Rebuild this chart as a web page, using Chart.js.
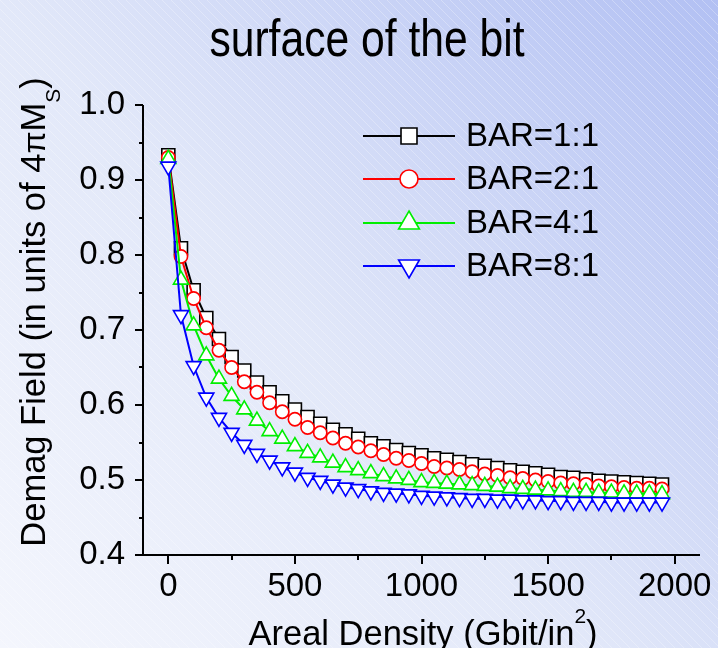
<!DOCTYPE html>
<html>
<head>
<meta charset="utf-8">
<script src="https://cdn.jsdelivr.net/npm/chart.js@4.4.1/dist/chart.umd.min.js"></script>
<style>
  html, body { margin: 0; padding: 0; background: #e6ebfa; }
  #wrap { position: relative; width: 718px; height: 648px; }
</style>
</head>
<body>
<div id="wrap"><canvas id="chart" width="718" height="648"></canvas></div>
<script>
// areal density (Gbit/in^2)
const densities = [
    0, 50, 100, 150, 200, 250, 300, 350, 400, 450,
    500, 550, 600, 650, 700, 750, 800, 850, 900, 950,
    1000, 1050, 1100, 1150, 1200, 1250, 1300, 1350, 1400, 1450,
    1500, 1550, 1600, 1650, 1700, 1750, 1800, 1850, 1900, 1950,
];

// demag field at the surface of the bit (units of 4piMs)
const bar11 = [
    0.933, 0.809, 0.753, 0.716, 0.688, 0.664, 0.646, 0.630, 0.617, 0.605,
    0.594, 0.584, 0.575, 0.567, 0.561, 0.555, 0.549, 0.545, 0.540, 0.536,
    0.533, 0.529, 0.527, 0.524, 0.521, 0.519, 0.516, 0.513, 0.511, 0.509,
    0.507, 0.504, 0.503, 0.501, 0.499, 0.498, 0.497, 0.496, 0.495, 0.494,
];
const bar21 = [
    0.930, 0.798, 0.742, 0.703, 0.673, 0.650, 0.631, 0.617, 0.603, 0.591,
    0.581, 0.570, 0.563, 0.556, 0.549, 0.544, 0.539, 0.534, 0.529, 0.526,
    0.522, 0.518, 0.516, 0.514, 0.511, 0.508, 0.506, 0.503, 0.502, 0.500,
    0.498, 0.496, 0.495, 0.494, 0.492, 0.491, 0.490, 0.489, 0.489, 0.488,
];
const bar41 = [
    0.928, 0.767, 0.706, 0.666, 0.635, 0.612, 0.594, 0.579, 0.565, 0.555,
    0.545, 0.536, 0.530, 0.523, 0.517, 0.513, 0.509, 0.505, 0.502, 0.500,
    0.497, 0.496, 0.495, 0.494, 0.493, 0.492, 0.491, 0.489, 0.488, 0.487,
    0.486, 0.485, 0.484, 0.484, 0.483, 0.483, 0.482, 0.482, 0.482, 0.481,
];
const bar81 = [
    0.918, 0.720, 0.652, 0.610, 0.583, 0.563, 0.547, 0.535, 0.526, 0.517,
    0.510, 0.503, 0.499, 0.494, 0.490, 0.488, 0.485, 0.483, 0.482, 0.481,
    0.479, 0.478, 0.477, 0.476, 0.475, 0.475, 0.474, 0.474, 0.473, 0.473,
    0.472, 0.472, 0.471, 0.471, 0.471, 0.470, 0.470, 0.470, 0.470, 0.470,
];

const seriesNames = ["BAR=1:1", "BAR=2:1", "BAR=4:1", "BAR=8:1"];
const xTicks = [0, 500, 1000, 1500, 2000];
const xMinorTicks = [250, 750, 1250, 1750];
const yTicks = [0.4, 0.5, 0.6, 0.7, 0.8, 0.9, 1.0];
const yMinorTicks = [0.45, 0.55, 0.65, 0.75, 0.85, 0.95];

const FONT = '"Liberation Sans", Arial, Helvetica, sans-serif';

const STYLES = [
    { color: "#000000", marker: "rect", radius: 9.2, legendRadius: 11.3, rotation: 0 },
    { color: "#ff0000", marker: "circle", radius: 6.6, legendRadius: 9, rotation: 0 },
    { color: "#00ee00", marker: "triangle", radius: 8.7, legendRadius: 12, rotation: 0 },
    { color: "#0000ff", marker: "triangle", radius: 8.7, legendRadius: 12, rotation: 180 },
];

function drawMarker(ctx, style, r, x, y) {
    ctx.save();
    ctx.fillStyle = "#ffffff";
    ctx.strokeStyle = style.color;
    ctx.lineWidth = 1.6;
    ctx.beginPath();
    if (style.marker === "rect") {
        const s = r * Math.SQRT1_2;
        ctx.rect(x - s, y - s, 2 * s, 2 * s);
    } else if (style.marker === "circle") {
        ctx.arc(x, y, r, 0, Math.PI * 2);
    } else {
        const dir = style.rotation ? -1 : 1;
        ctx.moveTo(x, y - dir * r);
        ctx.lineTo(x + r * 0.866, y + dir * r / 2);
        ctx.lineTo(x - r * 0.866, y + dir * r / 2);
        ctx.closePath();
    }
    ctx.fill();
    ctx.stroke();
    ctx.restore();
}

const backgroundPlugin = {
    id: "slideBackground",
    beforeDraw(chart) {
        const { ctx, width, height } = chart;
        ctx.save();
        const g = ctx.createLinearGradient(0, height, width, 0);
        g.addColorStop(0, "#f4f6fd");
        g.addColorStop(0.45, "#e2e8f9");
        g.addColorStop(1, "#b2c0f3");
        ctx.fillStyle = g;
        ctx.fillRect(0, 0, width, height);
        // faint diagonal hatching
        ctx.strokeStyle = "rgba(255,255,255,0.28)";
        ctx.lineWidth = 1;
        ctx.beginPath();
        for (let k = -height; k < width; k += 9) {
            ctx.moveTo(k, 0);
            ctx.lineTo(k + height, height);
        }
        ctx.stroke();
        ctx.restore();
    },
};

const axesPlugin = {
    id: "originAxes",
    beforeDatasetsDraw(chart) {
        const { ctx, chartArea } = chart;
        const xs = chart.scales.x;
        const ys = chart.scales.y;
        ctx.save();
        ctx.strokeStyle = "#000";
        ctx.lineWidth = 2;
        ctx.beginPath();
        ctx.moveTo(chartArea.left, chartArea.top);
        ctx.lineTo(chartArea.left, chartArea.bottom);
        ctx.lineTo(chartArea.right, chartArea.bottom);
        yTicks.forEach((v) => {
            const py = Math.round(ys.getPixelForValue(v));
            ctx.moveTo(chartArea.left - 8, py);
            ctx.lineTo(chartArea.left, py);
        });
        yMinorTicks.forEach((v) => {
            const py = Math.round(ys.getPixelForValue(v));
            ctx.moveTo(chartArea.left - 4, py);
            ctx.lineTo(chartArea.left, py);
        });
        xTicks.forEach((v) => {
            const px = Math.round(xs.getPixelForValue(v));
            ctx.moveTo(px, chartArea.bottom);
            ctx.lineTo(px, chartArea.bottom + 9);
        });
        xMinorTicks.forEach((v) => {
            const px = Math.round(xs.getPixelForValue(v));
            ctx.moveTo(px, chartArea.bottom);
            ctx.lineTo(px, chartArea.bottom + 5);
        });
        ctx.stroke();
        ctx.restore();
    },
};

function drawRuns(ctx, runs, x, y, align) {
    let total = 0;
    runs.forEach((r) => {
        ctx.font = r.size + "px " + FONT;
        r.w = ctx.measureText(r.text).width;
        total += r.w;
    });
    let cx = align === "center" ? x - total / 2 : x;
    runs.forEach((r) => {
        ctx.font = r.size + "px " + FONT;
        ctx.fillText(r.text, cx, y + (r.dy || 0));
        cx += r.w;
    });
}

const textPlugin = {
    id: "titlesAndLegend",
    afterDraw(chart) {
        const { ctx } = chart;
        ctx.save();
        ctx.fillStyle = "#000";
        ctx.textBaseline = "alphabetic";
        ctx.textAlign = "left";

        // title (narrow face)
        ctx.save();
        ctx.translate(367, 56);
        ctx.scale(0.82, 1);
        ctx.font = "52px " + FONT;
        ctx.textAlign = "center";
        ctx.fillText("surface of the bit", 0, 0);
        ctx.restore();

        // y axis title
        ctx.save();
        ctx.translate(45, 312);
        ctx.rotate(-Math.PI / 2);
        drawRuns(ctx, [
            { text: "Demag Field (in units of 4", size: 34.5 },
            { text: "\u03c0", size: 32 },
            { text: "M", size: 34.5 },
            { text: "S", size: 21, dy: 15 },
            { text: ")", size: 34.5 },
        ], 0, 0, "center");
        ctx.restore();

        // x axis title
        drawRuns(ctx, [
            { text: "Areal Density (Gbit/in", size: 34.5 },
            { text: "2", size: 21, dy: -22 },
            { text: ")", size: 34.5 },
        ], 423, 645, "center");

        // legend
        const rowY = [136, 179, 223, 266];
        seriesNames.forEach((name, i) => {
            const st = STYLES[i];
            const y = rowY[i];
            ctx.strokeStyle = st.color;
            ctx.lineWidth = 2;
            ctx.beginPath();
            ctx.moveTo(363, y);
            ctx.lineTo(455, y);
            ctx.stroke();
            drawMarker(ctx, st, st.legendRadius, 409, y);
            ctx.fillStyle = "#000";
            ctx.font = "33px " + FONT;
            ctx.textBaseline = "middle";
            ctx.fillText(name, 466, y + 1);
            ctx.textBaseline = "alphabetic";
        });
        ctx.restore();
    },
};

const seriesValues = [bar11, bar21, bar41, bar81];

const datasets = seriesValues.map((vals, i) => ({
    label: seriesNames[i],
    data: densities.map((d, k) => ({ x: d, y: vals[k] })),
    borderColor: STYLES[i].color,
    borderWidth: 2,
    backgroundColor: "#ffffff",
    pointStyle: STYLES[i].marker,
    pointRotation: STYLES[i].rotation,
    pointRadius: STYLES[i].radius,
    pointBorderWidth: 1.6,
    pointBorderColor: STYLES[i].color,
    pointBackgroundColor: "#ffffff",
    fill: false,
    tension: 0,
    order: 3 - i,
}));

new Chart(document.getElementById("chart"), {
    type: "line",
    data: { datasets },
    options: {
        responsive: false,
        devicePixelRatio: 1,
        animation: false,
        layout: { padding: { top: 105, right: 18, left: 0, bottom: 0 } },
        plugins: {
            legend: { display: false },
            title: { display: false },
            tooltip: { enabled: false },
        },
        scales: {
            x: {
                type: "linear",
                min: -100,
                max: 2100,
                afterBuildTicks: (scale) => {
                    scale.ticks = xTicks.map((v) => ({ value: v }));
                },
                afterFit: (scale) => {
                    scale.height = 93;
                },
                grid: { display: false },
                border: { display: false },
                ticks: {
                    color: "#000",
                    font: { family: FONT, size: 33 },
                    padding: 4,
                    maxRotation: 0,
                    autoSkip: false,
                    callback: (v) => String(v),
                },
            },
            y: {
                type: "linear",
                min: 0.4,
                max: 1.0,
                afterBuildTicks: (scale) => {
                    scale.ticks = yTicks.map((v) => ({ value: v }));
                },
                afterFit: (scale) => {
                    scale.width = 143;
                },
                grid: { display: false },
                border: { display: false },
                ticks: {
                    color: "#000",
                    font: { family: FONT, size: 33 },
                    padding: 10,
                    callback: (v) => Number(v).toFixed(1),
                },
            },
        },
    },
    plugins: [backgroundPlugin, axesPlugin, textPlugin],
});
</script>
</body>
</html>
